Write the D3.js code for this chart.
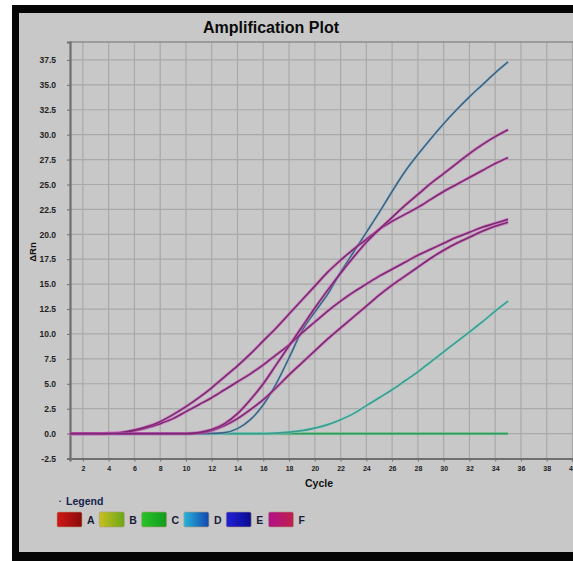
<!DOCTYPE html>
<html>
<head>
<meta charset="utf-8">
<script src="https://cdn.jsdelivr.net/npm/d3@7"></script>
<style>
  body { margin: 0; background: #fff; }
  svg { display: block; font-family: "Liberation Sans", Arial, sans-serif; }
  .tick-y { font-size: 8.5px; font-weight: bold; fill: #222; }
  .tick-x { font-size: 7px; font-weight: bold; fill: #222; }
</style>
</head>
<body>
<div id="chart"></div>
<script>
const ciclos = [1, 2, 3, 4, 5, 6, 7, 8, 9, 10, 11, 12, 13, 14, 15, 16, 17, 18, 19, 20,
  21, 22, 23, 24, 25, 26, 27, 28, 29, 30, 31, 32, 33, 34, 35];

// curva alta azul acero
const serieAcero = [0, -0.05, 0, 0, -0.05, 0, 0, 0, 0, 0, 0, 0.02, 0.1, 0.5, 1.4, 2.9, 5.0, 7.6, 10.3, 12.2,
  14.0, 16.2, 18.2, 20.2, 22.2, 24.3, 26.3, 28.0, 29.6, 31.1, 32.5, 33.8, 35.0, 36.2, 37.3];

// curva baja turquesa
const serieTurquesa = [0, -0.05, 0, 0, 0, 0, 0, 0, 0, 0, 0, 0, 0, 0, 0, 0, 0.05, 0.15, 0.3, 0.55,
  0.9, 1.4, 2.0, 2.8, 3.6, 4.4, 5.3, 6.2, 7.2, 8.2, 9.2, 10.2, 11.2, 12.3, 13.3];

// linea plana verde
const serieVerde = [0, 0, 0, 0, 0, 0, 0, 0, 0, 0, 0, 0, 0, 0, 0, 0, 0, 0, 0, 0,
  0, 0, 0, 0, 0, 0, 0, 0, 0, 0, 0, 0, 0, 0, 0];

// cuatro curvas magenta
const serieF1 = [0, 0, 0, 0.02, 0.1, 0.35, 0.7, 1.2, 1.9, 2.7, 3.6, 4.6, 5.7, 6.8, 8.0, 9.3, 10.6, 12.0, 13.4, 14.8,
  16.2, 17.4, 18.5, 19.5, 20.5, 21.3, 22.0, 22.7, 23.5, 24.3, 25.0, 25.7, 26.4, 27.1, 27.7];
const serieF2 = [0, 0, 0, 0.02, 0.1, 0.3, 0.6, 1.0, 1.5, 2.2, 2.9, 3.6, 4.4, 5.2, 6.0, 6.9, 7.9, 8.9, 10.1, 11.2,
  12.3, 13.3, 14.2, 15.0, 15.8, 16.5, 17.2, 17.9, 18.5, 19.1, 19.7, 20.2, 20.7, 21.1, 21.5];
const serieF3 = [0, 0, 0, 0, 0, 0, 0, 0, 0, 0, 0.1, 0.4, 1.0, 2.0, 3.4, 5.0, 6.9, 8.8, 10.7, 12.6,
  14.4, 16.1, 17.7, 19.2, 20.5, 21.7, 22.9, 24.0, 25.1, 26.1, 27.1, 28.1, 29.0, 29.8, 30.5];
const serieF4 = [0, 0, 0, 0, 0, 0, 0, 0, 0, 0, 0.05, 0.3, 0.8, 1.5, 2.4, 3.4, 4.6, 5.9, 7.1, 8.3,
  9.5, 10.6, 11.7, 12.8, 13.9, 14.9, 15.8, 16.7, 17.6, 18.4, 19.1, 19.7, 20.3, 20.8, 21.2];

const ticksX = [2, 4, 6, 8, 10, 12, 14, 16, 18, 20, 22, 24, 26, 28, 30, 32, 34, 36, 38, 40];
const ticksY = [-2.5, 0, 2.5, 5, 7.5, 10, 12.5, 15, 17.5, 20, 22.5, 25, 27.5, 30, 32.5, 35, 37.5];

const leyendaNombres = ["A", "B", "C", "D", "E", "F"];
const leyendaColores = [
  ["#d01818", "#8a0a0a"],
  ["#c8c020", "#6aa818"],
  ["#28c428", "#139a20"],
  ["#26b4d8", "#1446b0"],
  ["#2020d8", "#0a0a90"],
  ["#b0108c", "#c0204a"]
];

const curvas = [
  { datos: serieVerde, color: "#2d9a5c", halo: "#7fcf9a" },
  { datos: serieTurquesa, color: "#3a9c8e", halo: "#8fd6cc" },
  { datos: serieAcero, color: "#3d6380", halo: "#9cc2da" },
  { datos: serieF2, color: "#7a2a70", halo: "#d35ac0" },
  { datos: serieF4, color: "#7a2a70", halo: "#d35ac0" },
  { datos: serieF1, color: "#7a2a70", halo: "#d35ac0" },
  { datos: serieF3, color: "#7a2a70", halo: "#d35ac0" }
];

const width = 573;
const height = 561;
const fondo = "#c8c8c8";

const svg = d3.select("#chart")
  .append("svg")
  .attr("width", width)
  .attr("height", height);

// marco blanco y negro
svg.append("rect").attr("width", width).attr("height", height).attr("fill", "#fff");
svg.append("rect").attr("x", 12).attr("y", 5).attr("width", width - 12).attr("height", height - 5).attr("fill", "#050505");
svg.append("rect").attr("x", 19).attr("y", 13).attr("width", width - 19).attr("height", 539).attr("fill", fondo);

const x = d3.scaleLinear().domain([1, 40]).range([70, 572.5]);
const y = d3.scaleLinear().domain([-2.5, 39.3]).range([458.5, 42]);

svg.append("text")
  .attr("x", 271)
  .attr("y", 33)
  .attr("text-anchor", "middle")
  .style("font-size", "16px")
  .style("font-weight", "900")
  .attr("fill", "#0a0a0a")
  .text("Amplification Plot");

const grid = svg.append("g");

grid.selectAll("line.gv")
  .data(ticksX)
  .join("line")
  .attr("class", "gv")
  .attr("x1", d => x(d)).attr("x2", d => x(d))
  .attr("y1", y.range()[1]).attr("y2", y.range()[0])
  .attr("stroke", "#a9a9a9")
  .attr("stroke-width", 1.2);

grid.selectAll("line.gh")
  .data(ticksY)
  .join("line")
  .attr("class", "gh")
  .attr("x1", x.range()[0]).attr("x2", width)
  .attr("y1", d => y(d)).attr("y2", d => y(d))
  .attr("stroke", "#a9a9a9")
  .attr("stroke-width", 1.2);

// borde superior
svg.append("line")
  .attr("x1", 70).attr("x2", width)
  .attr("y1", 42).attr("y2", 42)
  .attr("stroke", "#8c8c8c").attr("stroke-width", 1.5);

const formatoY = d => d3.format(".1f")(d).replace("−", "-");

const ejeY = svg.append("g")
  .attr("transform", "translate(70,0)")
  .call(d3.axisLeft(y).tickValues(ticksY).tickSize(3).tickPadding(11).tickFormat(formatoY));
ejeY.select(".domain").attr("stroke", "#6f6f6f").attr("stroke-width", 2.2);
ejeY.selectAll(".tick line").attr("stroke", "#6f6f6f");
ejeY.selectAll(".tick text").attr("class", "tick-y").attr("font-family", null).attr("font-size", null).attr("fill", null);

const ejeX = svg.append("g")
  .attr("transform", `translate(0,${y.range()[0]})`)
  .call(d3.axisBottom(x).tickValues(ticksX).tickSize(3).tickPadding(5).tickFormat(d3.format("d")));
ejeX.select(".domain").attr("stroke", "#6f6f6f").attr("stroke-width", 2.2);
ejeX.selectAll(".tick line").attr("stroke", "#6f6f6f");
ejeX.selectAll(".tick text").attr("class", "tick-x").attr("font-family", null).attr("font-size", null).attr("fill", null);

svg.append("text")
  .attr("x", 319)
  .attr("y", 487)
  .attr("text-anchor", "middle")
  .style("font-size", "10.5px")
  .style("font-weight", "bold")
  .attr("fill", "#111")
  .text("Cycle");

svg.append("text")
  .attr("transform", "translate(36,252) rotate(-90)")
  .attr("text-anchor", "middle")
  .style("font-size", "9.5px")
  .style("font-weight", "bold")
  .attr("fill", "#111")
  .text("ΔRn");

const linea = d3.line()
  .x((d, i) => x(ciclos[i]))
  .y(d => y(d))
  .curve(d3.curveMonotoneX);

const grupoCurvas = svg.append("g");

curvas.forEach(c => {
  grupoCurvas.append("path")
    .attr("d", linea(c.datos))
    .attr("fill", "none")
    .attr("stroke", c.halo)
    .attr("stroke-opacity", 0.55)
    .attr("stroke-width", 3.2);
  grupoCurvas.append("path")
    .attr("d", linea(c.datos))
    .attr("fill", "none")
    .attr("stroke", c.color)
    .attr("stroke-width", 1.6);
});

// leyenda
const defs = svg.append("defs");
leyendaColores.forEach((par, i) => {
  const g = defs.append("linearGradient")
    .attr("id", `grad${i}`)
    .attr("x1", "0").attr("x2", "1").attr("y1", "0").attr("y2", "0");
  g.append("stop").attr("offset", "0%").attr("stop-color", par[0]);
  g.append("stop").attr("offset", "100%").attr("stop-color", par[1]);
});

svg.append("text")
  .attr("x", 59)
  .attr("y", 503)
  .style("font-size", "6px")
  .attr("fill", "#1a2a5a")
  .text("•");

svg.append("text")
  .attr("x", 66)
  .attr("y", 505)
  .style("font-size", "10.5px")
  .style("font-weight", "bold")
  .attr("fill", "#14244e")
  .text("Legend");

const itemLeyenda = svg.append("g")
  .selectAll("g")
  .data(leyendaNombres)
  .join("g")
  .attr("transform", (d, i) => `translate(${57 + i * 42.3},512)`);

itemLeyenda.append("rect")
  .attr("width", 25)
  .attr("height", 15)
  .attr("rx", 1.5)
  .attr("fill", (d, i) => `url(#grad${i})`)
  .attr("stroke", "#b09a7a")
  .attr("stroke-width", 0.6);

itemLeyenda.append("text")
  .attr("x", 30)
  .attr("y", 12)
  .style("font-size", "10.5px")
  .style("font-weight", "bold")
  .attr("fill", "#1a1a3a")
  .text(d => d);
</script>
</body>
</html>
